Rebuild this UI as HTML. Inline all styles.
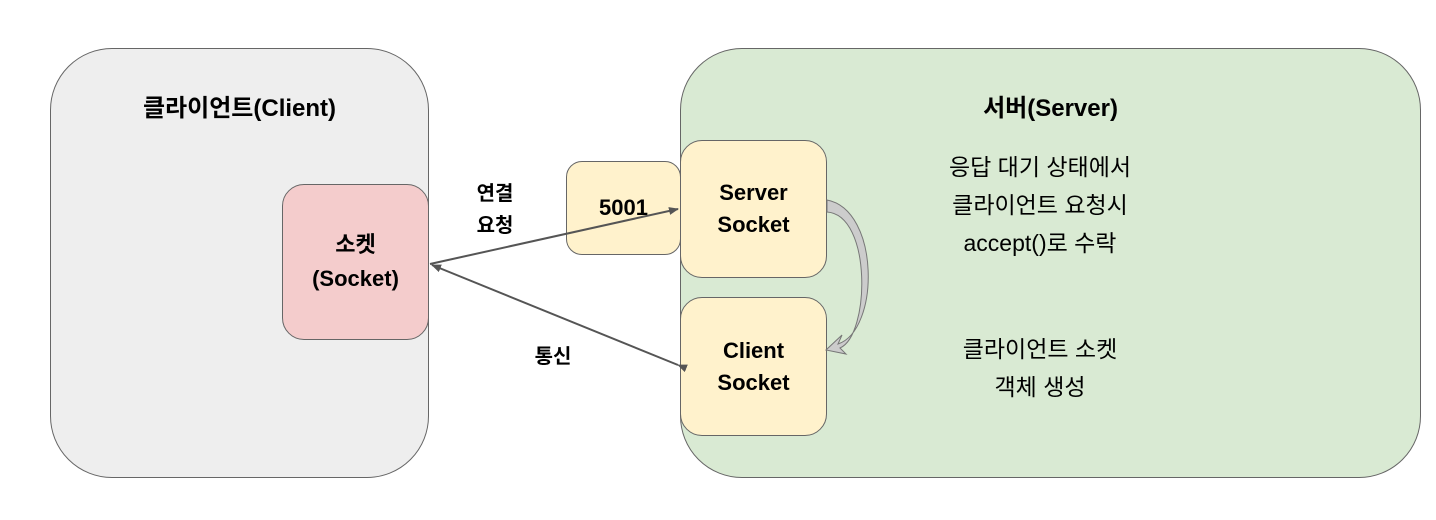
<!DOCTYPE html>
<html><head><meta charset="utf-8"><style>
body{margin:0;width:1436px;height:520px;background:#fff;overflow:hidden;position:relative;font-family:"Liberation Sans","Noto Sans CJK KR",sans-serif}
.b{position:absolute;box-sizing:border-box;border:1.5px solid #666;display:flex;align-items:center;justify-content:center;text-align:center;font-weight:bold;color:#000}
.t{position:absolute;text-align:center;color:#000}
</style></head><body>
<div class="b" style="left:50px;top:48px;width:379px;height:430px;background:#eeeeee;border-radius:62px"></div>
<div class="b" style="left:680px;top:48px;width:741px;height:430px;background:#d9ead3;border-radius:62px"></div>
<div class="t" style="left:50px;top:88px;width:379px;font-size:24px;font-weight:bold">클라이언트(Client)</div>
<div class="t" style="left:680px;top:88px;width:741px;font-size:24px;font-weight:bold">서버(Server)</div>
<div class="b" style="left:282px;top:184px;width:147px;height:156px;background:#f4cccc;border-radius:22px;font-size:22px;line-height:34px">소켓<br>(Socket)</div>
<div class="b" style="left:566px;top:161px;width:115px;height:94px;background:#fff2cc;border-radius:16px;font-size:22px">5001</div>
<div class="b" style="left:680px;top:140px;width:147px;height:138px;background:#fff2cc;border-radius:22px;font-size:22px;line-height:32px">Server<br>Socket</div>
<div class="b" style="left:680px;top:297px;width:147px;height:139px;background:#fff2cc;border-radius:22px;font-size:22px;line-height:32px">Client<br>Socket</div>
<div class="t" style="left:450px;top:178px;width:90px;font-size:20px;font-weight:bold;line-height:32px">연결<br>요청</div>
<div class="t" style="left:508px;top:340px;width:90px;font-size:20px;font-weight:bold">통신</div>
<div class="t" style="left:900px;top:148px;width:280px;font-size:23px;line-height:38px">응답 대기 상태에서<br>클라이언트 요청시<br>accept()로 수락</div>
<div class="t" style="left:900px;top:330px;width:280px;font-size:23px;line-height:38px">클라이언트 소켓<br>객체 생성</div>
<svg width="1436" height="520" style="position:absolute;left:0;top:0">
<defs><marker id="a" markerWidth="10" markerHeight="8" refX="9" refY="4" orient="auto" markerUnits="userSpaceOnUse" viewBox="0 0 10 8"><path d="M0,0L10,4L0,8z" fill="#555"/></marker></defs>
<line x1="430" y1="264" x2="678" y2="209" stroke="#555" stroke-width="2" marker-end="url(#a)"/>
<line x1="678" y1="365" x2="432" y2="265" stroke="#555" stroke-width="2" marker-end="url(#a)" marker-start="url(#a)"/>
<path d="M827,200 C880,210 880,330 838,344 L842,335 L826,350 L846,354 L840,348 C870,335 872,215 827,212 Z" fill="#ccc" stroke="#777" stroke-width="1"/>
</svg>
</body></html>
